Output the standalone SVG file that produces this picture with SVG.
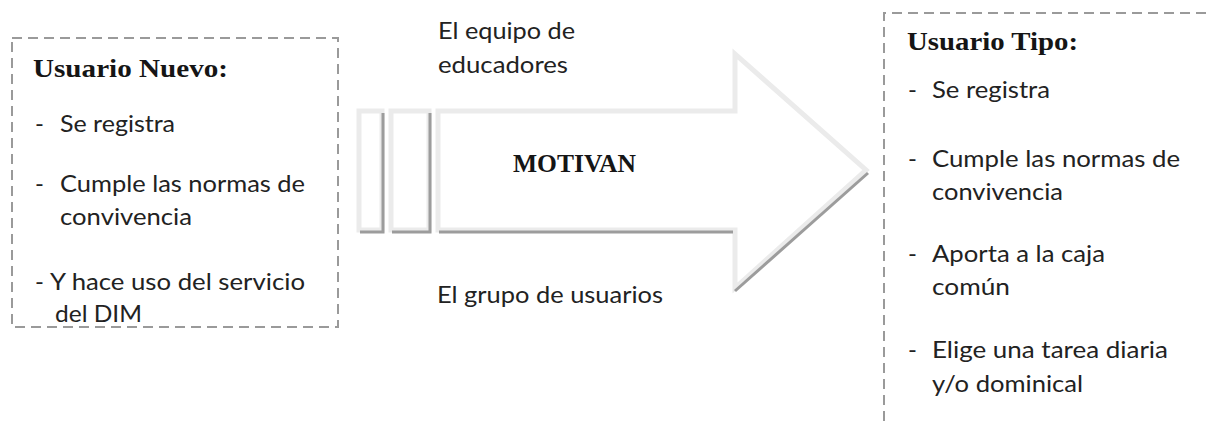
<svg xmlns="http://www.w3.org/2000/svg" width="1206" height="421" viewBox="0 0 1206 421">
<style>
.t{font-family:Lato,"Noto Sans","Liberation Sans",sans-serif;font-size:24px;fill:#222}
.h{font-family:"Liberation Serif","DejaVu Serif",serif;font-size:25px;font-weight:bold;fill:#151515}
.box{fill:none;stroke:#9a9a9a;stroke-width:2;stroke-dasharray:10 6}
.arr{fill:#fff;stroke:#ebebeb;stroke-width:5;stroke-linejoin:miter}
.sh{fill:none;stroke:#9c9c9c;stroke-width:3}
</style>
<rect width="1206" height="421" fill="#fff"/>
<g id="connectors">
  <g id="arrow">
    <rect class="arr" x="359" y="111" width="23" height="119"/>
    <rect class="arr" x="391" y="111" width="38" height="119"/>
    <polygon class="arr" points="438,111 735,111 735,54 866,170 735,288 735,230 438,230"/>
    <polyline class="sh" points="383,113 383,232 360,232"/>
    <polyline class="sh" points="430,113 430,232 392,232"/>
    <line class="sh" x1="439" y1="232" x2="733" y2="232"/>
    <line class="sh" x1="735" y1="291" x2="868" y2="173"/>
  </g>
  <text class="h" x="513" y="172" textLength="123" lengthAdjust="spacingAndGlyphs">MOTIVAN</text>
  <text class="t" x="438" y="39" textLength="137" lengthAdjust="spacingAndGlyphs">El equipo de</text>
  <text class="t" x="438" y="73" textLength="130" lengthAdjust="spacingAndGlyphs">educadores</text>
  <text class="t" x="437" y="303" textLength="226" lengthAdjust="spacingAndGlyphs">El grupo de usuarios</text>
</g>
<g id="usuario-nuevo">
  <rect class="box" x="12" y="38" width="326" height="289"/>
  <text class="h" x="33" y="77" textLength="195" lengthAdjust="spacingAndGlyphs">Usuario Nuevo:</text>
  <text class="t" x="35" y="132">-</text>
  <text class="t" x="60" y="132" textLength="115" lengthAdjust="spacingAndGlyphs">Se registra</text>
  <text class="t" x="35" y="192">-</text>
  <text class="t" x="60" y="192" textLength="245" lengthAdjust="spacingAndGlyphs">Cumple las normas de</text>
  <text class="t" x="60" y="225" textLength="132" lengthAdjust="spacingAndGlyphs">convivencia</text>
  <text class="t" x="35" y="290">-</text>
  <text class="t" x="50" y="290" textLength="255" lengthAdjust="spacingAndGlyphs">Y hace uso del servicio</text>
  <text class="t" x="55" y="322" textLength="87" lengthAdjust="spacingAndGlyphs">del DIM</text>
</g>
<g id="usuario-tipo">
  <polyline class="box" points="884,421 884,13 1206,13"/>
  <text class="h" x="907" y="50" textLength="171" lengthAdjust="spacingAndGlyphs">Usuario Tipo:</text>
  <text class="t" x="908" y="98">-</text>
  <text class="t" x="932" y="98" textLength="118" lengthAdjust="spacingAndGlyphs">Se registra</text>
  <text class="t" x="908" y="167">-</text>
  <text class="t" x="932" y="167" textLength="248" lengthAdjust="spacingAndGlyphs">Cumple las normas de</text>
  <text class="t" x="932" y="200" textLength="131" lengthAdjust="spacingAndGlyphs">convivencia</text>
  <text class="t" x="908" y="262">-</text>
  <text class="t" x="932" y="262" textLength="173" lengthAdjust="spacingAndGlyphs">Aporta a la caja</text>
  <text class="t" x="932" y="295" textLength="78" lengthAdjust="spacingAndGlyphs">común</text>
  <text class="t" x="908" y="358">-</text>
  <text class="t" x="932" y="358" textLength="236" lengthAdjust="spacingAndGlyphs">Elige una tarea diaria</text>
  <text class="t" x="932" y="392" textLength="151" lengthAdjust="spacingAndGlyphs">y/o dominical</text>
</g>
</svg>
